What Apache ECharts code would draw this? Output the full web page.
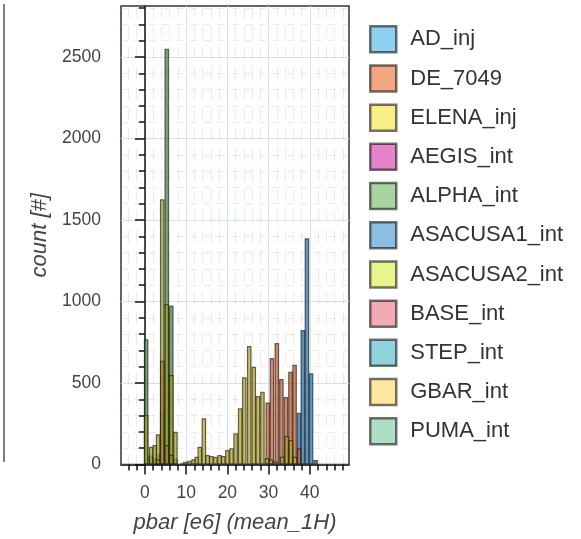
<!DOCTYPE html>
<html>
<head>
<meta charset="utf-8">
<script src="https://cdn.jsdelivr.net/npm/echarts@6/dist/echarts.min.js"></script>
<style>
  html, body { margin: 0; padding: 0; background: #fff; }
  #chart { width: 581px; height: 539px; }
</style>
</head>
<body>
<div id="chart"></div>
<script>
// 图例顺序
const seriesNames = ['AD_inj', 'DE_7049', 'ELENA_inj', 'AEGIS_int', 'ALPHA_int', 'ASACUSA1_int',
    'ASACUSA2_int', 'BASE_int', 'STEP_int', 'GBAR_int', 'PUMA_int']

// 每个序列的 bin 中心 (e6) 和计数
const adX = [37.4, 38.3, 39.3, 40.3, 41.4]
const adY = [318, 825, 1388, 560, 28]
const deX = [29.8, 30.8, 32.0, 33.1, 34.2, 35.3, 36.3, 37.4]
const deY = [380, 653, 745, 524, 414, 569, 612, 100]
const elenaX = [8.9, 9.8, 10.8, 11.8, 12.6, 13.3, 14.3, 15.2, 16.1, 17.1, 18.1, 19.0, 20.0, 21.0, 22.0,
    23.1, 24.1, 25.3, 26.4, 27.4, 28.5, 29.6, 30.6, 31.6, 33.3, 34.4, 35.4, 36.4]
const elenaY = [7, 17, 23, 32, 48, 109, 283, 58, 52, 48, 58, 52, 89, 99, 191,
    345, 535, 727, 600, 420, 447, 40, 30, 20, 48, 175, 150, 48]
const alphaX = [0.3, 1.4, 2.3, 3.2, 4.2, 5.3, 6.4, 7.4]
const alphaY = [768, 55, 40, 65, 328, 2550, 975, 35]
const asacusa2X = [0.3, 1.5, 2.4, 3.2, 4.2, 5.3, 6.4, 7.4]
const asacusa2Y = [304, 109, 120, 185, 1627, 985, 549, 201]
const gbarX = [3.2, 4.2, 5.3, 6.4]
const gbarY = [30, 637, 120, 60]

// 坐标轴刻度
const xMajor = [0, 10, 20, 30, 40]
const xMinor = [-4, -2, 2, 4, 6, 8, 12, 14, 16, 18, 22, 24, 26, 28, 32, 34, 36, 38, 42, 44, 46, 48]
const yMajor = [0, 500, 1000, 1500, 2000, 2500]
const yMinor = [100, 200, 300, 400, 600, 700, 800, 900, 1100, 1200, 1300, 1400, 1600, 1700, 1800, 1900,
    2100, 2200, 2300, 2400, 2600, 2700, 2800]

const legendColors = ['#8fd0f0', '#f2a883', '#f8ef88', '#e584c8', '#a8d4a0', '#8cbde2',
    '#e8f48c', '#f2aab4', '#8fd4dc', '#fee8a0', '#acdfc4']
const barColors = ['rgba(45,120,180,0.78)', 'rgba(200,98,50,0.75)', 'rgba(185,170,45,0.78)',
    'rgba(203,9,145,0.5)', 'rgba(75,140,75,0.75)', 'rgba(25,123,197,0.5)', 'rgba(160,165,35,0.75)',
    'rgba(229,85,105,0.5)', 'rgba(31,169,185,0.5)', 'rgba(175,135,40,0.75)', 'rgba(89,191,137,0.5)']

const seriesData = {
    AD_inj: [adX, adY],
    DE_7049: [deX, deY],
    ELENA_inj: [elenaX, elenaY],
    ALPHA_int: [alphaX, alphaY],
    ASACUSA2_int: [asacusa2X, asacusa2Y],
    GBAR_int: [gbarX, gbarY]
}

const FONT = '"Liberation Sans", Arial, Helvetica, sans-serif'
const INK = '#111'
const PINK = 'rgba(235,130,150,0.22)'

const chart = echarts.init(document.getElementById('chart'))

const series = seriesNames.map((name, i) => {
    const pair = seriesData[name]
    const data = pair ? pair[0].map((x, j) => [x, pair[1][j]]) : []
    return {
        name: name,
        type: 'bar',
        barWidth: 4.6,
        barGap: '-100%',
        data: data,
        itemStyle: {
            color: barColors[i],
            borderColor: 'rgba(25,25,25,0.65)',
            borderWidth: 1.2
        }
    }
})

const option = {
    animation: false,
    backgroundColor: '#fff',
    textStyle: { fontFamily: FONT },
    grid: {
        left: 121, right: 232, top: 6, bottom: 74.5,
        show: true,
        borderColor: '#333',
        borderWidth: 1.5,
        backgroundColor: 'transparent'
    },
    legend: {
        orient: 'vertical',
        left: 364,
        top: 20,
        itemWidth: 26,
        itemHeight: 26,
        itemGap: 10.7,
        icon: 'rect',
        textStyle: { fontSize: 22, lineHeight: 26, color: '#333', fontFamily: FONT, padding: [0, 0, 0, 9] },
        data: seriesNames.map((name, i) => ({
            name: name,
            itemStyle: {
                color: legendColors[i],
                borderColor: 'rgba(0,0,0,0.55)',
                borderWidth: 2.5
            }
        }))
    },
    xAxis: [
        {
            type: 'value',
            min: -5.8,
            max: 49.5,
            name: 'pbar [e6] (mean_1H)',
            nameLocation: 'middle',
            nameGap: 47,
            nameTextStyle: { fontSize: 22, fontStyle: 'italic', color: '#444', fontFamily: FONT },
            axisLine: { lineStyle: { color: INK, width: 1.5 } },
            axisTick: { customValues: xMajor, length: 10, lineStyle: { color: INK, width: 1.5 } },
            axisLabel: { customValues: xMajor, fontSize: 17.5, color: '#444', margin: 20 },
            splitLine: { show: true, lineStyle: { color: '#cde6ef', width: 1 } }
        },
        {
            type: 'value',
            min: -5.8,
            max: 49.5,
            position: 'bottom',
            axisLine: { show: false },
            axisTick: { customValues: xMinor, length: 6, lineStyle: { color: INK, width: 1.5 } },
            axisLabel: { show: false },
            splitLine: { show: true, lineStyle: { color: PINK, width: 1, type: [12, 8.4] } }
        }
    ],
    yAxis: [
        {
            type: 'value',
            min: 0,
            max: 2813,
            name: 'count [#]',
            nameLocation: 'middle',
            nameGap: 70,
            nameTextStyle: { fontSize: 22, fontStyle: 'italic', color: '#444', fontFamily: FONT },
            axisLine: { show: true, lineStyle: { color: INK, width: 1.5 } },
            axisTick: { show: true, customValues: yMajor, length: 10, lineStyle: { color: INK, width: 1.5 } },
            axisLabel: {
                customValues: yMajor, fontSize: 17.5, color: '#444', margin: 20,
                formatter: value => String(value)
            },
            splitLine: { show: true, lineStyle: { color: '#cde6ef', width: 1 } }
        },
        {
            type: 'value',
            min: 0,
            max: 2813,
            position: 'left',
            axisLine: { show: false },
            axisTick: { show: true, customValues: yMinor, length: 6, lineStyle: { color: INK, width: 1.5 } },
            axisLabel: { show: false },
            splitLine: { show: true, lineStyle: { color: PINK, width: 1, type: [7, 6.8] } }
        }
    ],
    graphic: [
        {
            type: 'line',
            shape: { x1: 4, y1: 4, x2: 4, y2: 462 },
            style: { stroke: '#555', lineWidth: 1.5 }
        }
    ],
    series: series
}

chart.setOption(option)
</script>
</body>
</html>
